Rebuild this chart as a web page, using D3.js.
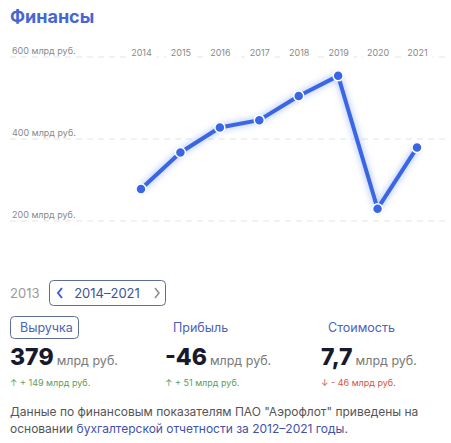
<!DOCTYPE html>
<html><head><meta charset="utf-8">
<script src="https://cdn.jsdelivr.net/npm/d3@7"></script>
<style>
body{margin:0;background:#fff;}
svg{display:block;font-family:Inter, "Open Sans", sans-serif;}
</style></head>
<body>
<svg id="c" width="451" height="443"></svg>
<script>
const years = [2014, 2015, 2016, 2017, 2018, 2019, 2020, 2021];
const revenue = [278, 367, 428, 446, 505, 554, 230, 379];
const yTicks = [200, 400, 600];
const yTickLabels = ["200 млрд руб.", "400 млрд руб.", "600 млрд руб."];
const metricNames = ["Выручка", "Прибыль", "Стоимость"];
const metricValues = ["379", "-46", "7,7"];
const metricChanges = ["+ 149 млрд руб.", "+ 51 млрд руб.", "- 46 млрд руб."];
const metricUp = [true, true, false];

const svg = d3.select("#c");
const blue = "#3b66e3";

svg.append("text").attr("x", 10).attr("y", 23).text("Финансы")
  .attr("font-size", 18).attr("font-weight", 700).attr("fill", "#4566d4");

const x = d3.scalePoint().domain(years).range([141, 417]);
const y = d3.scaleLinear().domain([200, 600]).range([221, 57]);

// grid
const grid = svg.append("g");
yTicks.forEach((t, i) => {
  grid.append("line").attr("x1", 10).attr("x2", 446).attr("y1", y(t)).attr("y2", y(t))
    .attr("stroke", "#e3e3e3").attr("stroke-width", 1).attr("stroke-dasharray", "6,5");
  grid.append("rect").attr("x", 10).attr("y", y(t) - 12).attr("width", 70).attr("height", 11).attr("fill", "#fff");
  grid.append("text").attr("x", 12).attr("y", y(t) - 3).text(yTickLabels[i])
    .attr("font-size", 9).attr("fill", "#8a8a8a");
});

// year labels via axis
const xAxis = svg.append("g").attr("transform", "translate(0,56)")
  .call(d3.axisTop(x).tickSize(0).tickPadding(0).tickFormat(d => d));
xAxis.select(".domain").remove();
xAxis.selectAll("text").attr("font-size", 9).attr("fill", "#8a8a8a").attr("font-family", "Inter, sans-serif");
xAxis.selectAll(".tick").insert("rect", "text").attr("x", -15).attr("y", -11).attr("width", 30).attr("height", 13).attr("fill", "#fff");

const defs = svg.append("defs");
const f = defs.append("filter").attr("id", "glow").attr("x", "-20%").attr("y", "-20%").attr("width", "140%").attr("height", "140%");
f.append("feGaussianBlur").attr("stdDeviation", 3);

const line = d3.line().x((d, i) => x(years[i])).y(d => y(d));
svg.append("path").datum(revenue).attr("d", line)
  .attr("fill", "none").attr("stroke", "#7f9ff5").attr("stroke-width", 6).attr("stroke-linejoin", "round")
  .attr("opacity", 0.55).attr("filter", "url(#glow)");
svg.append("path").datum(revenue).attr("d", line)
  .attr("fill", "none").attr("stroke", blue).attr("stroke-width", 4).attr("stroke-linejoin", "round");
svg.selectAll("circle.pt").data(revenue).join("circle").attr("class", "pt")
  .attr("cx", (d, i) => x(years[i])).attr("cy", d => y(d)).attr("r", 5)
  .attr("fill", blue).attr("stroke", "#fff").attr("stroke-width", 1.5);

// period selector
svg.append("text").attr("x", 10).attr("y", 298).text("2013").attr("font-size", 13).attr("fill", "#9a9a9a");
svg.append("rect").attr("x", 49.5).attr("y", 280.5).attr("width", 116).attr("height", 25).attr("rx", 4)
  .attr("fill", "#fff").attr("stroke", "#5a6e96").attr("stroke-width", 1);
svg.append("path").attr("d", "M62,288 L58,293 L62,298").attr("fill", "none").attr("stroke", "#3d5fd0").attr("stroke-width", 2);
svg.append("path").attr("d", "M155,288 L159,293 L155,298").attr("fill", "none").attr("stroke", "#8a8a8a").attr("stroke-width", 1.5);
svg.append("text").attr("x", 107).attr("y", 298).attr("text-anchor", "middle").text("2014–2021")
  .attr("font-size", 13).attr("fill", "#3d5398");

// metrics
const mx = [10, 165, 321];
const nameX = [20, 173, 328];
svg.append("rect").attr("x", 10.5).attr("y", 316.5).attr("width", 68).attr("height", 22).attr("rx", 4)
  .attr("fill", "#fff").attr("stroke", "#5a6e96");
metricNames.forEach((n, i) => {
  svg.append("text").attr("x", nameX[i]).attr("y", 332).text(n).attr("font-size", 12.5).attr("fill", "#4a63b8");
  const t = svg.append("text").attr("x", mx[i]).attr("y", 365);
  t.append("tspan").text(metricValues[i]).attr("font-size", 23).attr("font-weight", 800).attr("fill", "#161a2c");
  t.append("tspan").text("млрд руб.").attr("dx", 3).attr("font-size", 12.5).attr("fill", "#7a7a7a");
  svg.append("text").attr("x", mx[i]).attr("y", 386)
    .text((metricUp[i] ? "↑" : "↓") + "  " + metricChanges[i])
    .attr("font-size", 9).attr("fill", metricUp[i] ? "#5aa05a" : "#d6533f");
});

// footer
const ft = svg.append("g").attr("font-size", 12).attr("fill", "#555");
ft.append("text").attr("x", 10).attr("y", 416).text("Данные по финансовым показателям ПАО \"Аэрофлот\" приведены на");
const l2 = ft.append("text").attr("x", 10).attr("y", 433);
l2.append("tspan").text("основании ");
l2.append("tspan").text("бухгалтерской отчетности за 2012–2021 годы").attr("fill", "#3f52a8");
l2.append("tspan").text(".");
</script>
</body></html>
